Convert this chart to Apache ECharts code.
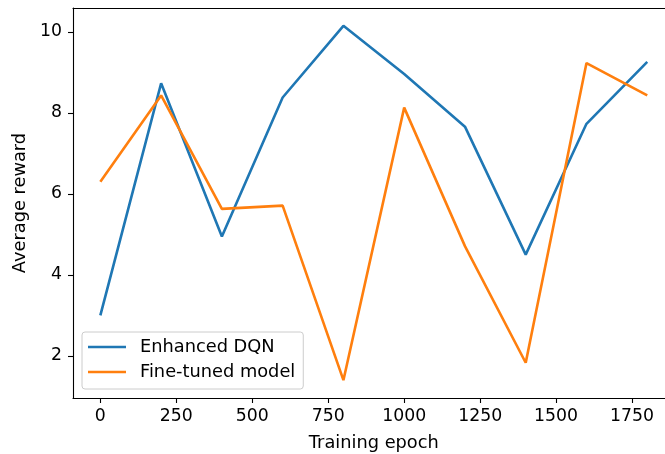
<!DOCTYPE html>
<html><head><meta charset="utf-8">
<script src="https://cdn.jsdelivr.net/npm/echarts@6/dist/echarts.min.js"></script>
<style>html,body{margin:0;padding:0;background:#fff}#c{width:665px;height:454px}</style>
</head><body><div id="c"></div>
<script>
const epochs = [0, 200, 400, 600, 800, 1000, 1200, 1400, 1600, 1800];
const enhancedDQN = [3.0, 8.73, 4.95, 8.38, 10.15, 8.96, 7.66, 4.5, 7.73, 9.26];
const fineTuned = [6.3, 8.43, 5.63, 5.71, 1.4, 8.13, 4.71, 1.83, 9.23, 8.43];
const xTicks = [0, 250, 500, 750, 1000, 1250, 1500, 1750];
const yTicks = [2, 4, 6, 8, 10];
const seriesNames = ['Enhanced DQN', 'Fine-tuned model'];

const font = 'DejaVu Sans';
const chart = echarts.init(document.getElementById('c'), null, {renderer: 'canvas'});
const pair = (xs, ys) => xs.map((x, i) => [x, ys[i]]);
chart.setOption({
  animation: false,
  textStyle: {fontFamily: font},
  grid: {left: 73, top: 8, width: 601.6, height: 390, outerBoundsMode: 'none', containLabel: false, show: false},
  xAxis: [{
    type: 'value', min: -90, max: 1890,
    name: 'Training epoch', nameLocation: 'middle', nameGap: 36,
    nameTextStyle: {fontSize: 17.8, color: '#000', fontFamily: font},
    axisLine: {show: true, onZero: false, lineStyle: {color: '#000', width: 1.1}},
    axisTick: {show: true, length: 5, lineStyle: {color: '#000', width: 1.1}, customValues: xTicks},
    axisLabel: {fontSize: 17.3, color: '#000', margin: 10, fontFamily: font, customValues: xTicks,
                formatter: v => String(v)},
    splitLine: {show: false}
  }, {
    type: 'value', min: -90, max: 1890, position: 'top',
    axisLine: {show: true, onZero: false, lineStyle: {color: '#000', width: 1.1}},
    axisTick: {show: false}, axisLabel: {show: false}, splitLine: {show: false}
  }],
  yAxis: {
    type: 'value', min: 0.96, max: 10.59,
    name: 'Average reward', nameLocation: 'middle', nameGap: 39, nameRotate: 90,
    nameTextStyle: {fontSize: 17.8, color: '#000', fontFamily: font},
    axisLine: {show: true, onZero: false, lineStyle: {color: '#000', width: 1.1}},
    axisTick: {show: true, length: 5, lineStyle: {color: '#000', width: 1.1}, customValues: yTicks},
    axisLabel: {fontSize: 17.3, color: '#000', margin: 11, fontFamily: font, customValues: yTicks,
                formatter: v => String(v)},
    splitLine: {show: false}
  },
  legend: {
    orient: 'vertical', left: 82, top: 332,
    backgroundColor: 'rgba(255,255,255,0.8)', borderColor: '#cccccc', borderWidth: 1, borderRadius: 3,
    padding: [5, 8, 7, 6],
    icon: 'rect', itemWidth: 38, itemHeight: 2.6, itemGap: 5,
    textStyle: {fontSize: 17.8, color: '#000', fontFamily: font, lineHeight: 20, padding: [0, 0, 0, 9]},
    data: seriesNames
  },
  series: [
    {name: seriesNames[0], type: 'line', data: pair(epochs, enhancedDQN), showSymbol: false, symbol: 'none',
     lineStyle: {color: '#1f77b4', width: 2.6}, itemStyle: {color: '#1f77b4'}, z: 2},
    {name: seriesNames[1], type: 'line', data: pair(epochs, fineTuned), showSymbol: false, symbol: 'none',
     lineStyle: {color: '#ff7f0e', width: 2.6}, itemStyle: {color: '#ff7f0e'}, z: 3}
  ]
});
</script></body></html>
